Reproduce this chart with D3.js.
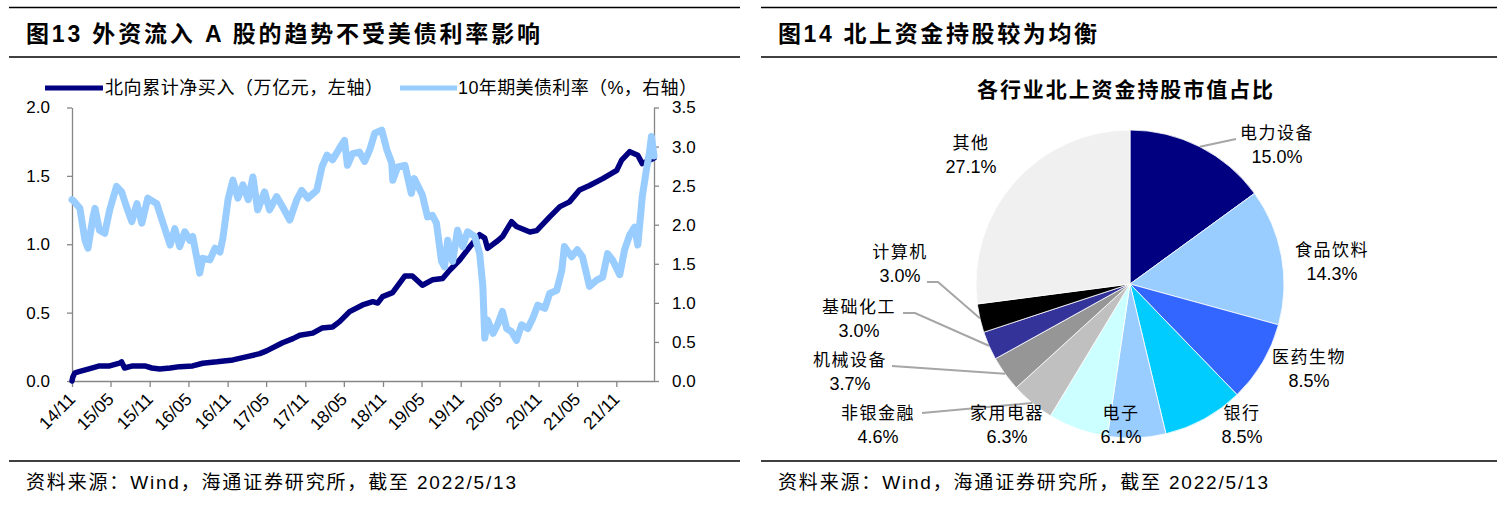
<!DOCTYPE html>
<html>
<head>
<meta charset="utf-8">
<script src="https://cdn.jsdelivr.net/npm/d3@7"></script>
<style>
  body { margin: 0; background: #fff; }
  svg text { font-family: "Liberation Sans", "Noto Sans CJK SC", sans-serif; fill: #000; }
</style>
</head>
<body>
<script>
// ---- data ----
var flowDates = ["2014-11-17","2014-11-21","2014-12-01","2014-12-24","2015-02-09","2015-03-26","2015-05-13","2015-06-28","2015-07-08","2015-07-22","2015-08-29","2015-09-18","2015-10-25","2015-11-27","2016-01-03","2016-02-21","2016-04-06","2016-06-06","2016-07-23","2016-09-28","2016-12-12","2017-02-17","2017-04-17","2017-05-19","2017-08-02","2017-09-20","2017-10-22","2017-12-22","2018-02-03","2018-03-25","2018-04-27","2018-06-13","2018-08-13","2018-09-30","2018-10-23","2018-11-15","2019-01-01","2019-02-28","2019-04-04","2019-05-21","2019-07-07","2019-08-24","2019-09-26","2019-11-12","2019-12-29","2020-02-14","2020-03-09","2020-03-22","2020-05-04","2020-05-31","2020-07-13","2020-08-05","2020-10-07","2020-11-08","2021-01-08","2021-02-25","2021-04-11","2021-05-28","2021-07-14","2021-09-14","2021-11-19","2021-12-12","2022-01-19","2022-02-26","2022-03-19","2022-04-22","2022-05-13"];
var flowValues = [0.00,0.03,0.06,0.07,0.09,0.11,0.11,0.13,0.14,0.095,0.11,0.11,0.11,0.095,0.088,0.095,0.105,0.11,0.13,0.14,0.154,0.178,0.20,0.22,0.28,0.31,0.335,0.35,0.387,0.395,0.434,0.507,0.556,0.58,0.57,0.617,0.646,0.768,0.768,0.70,0.74,0.75,0.81,0.885,0.98,1.07,1.045,0.97,1.02,1.055,1.165,1.13,1.09,1.10,1.20,1.275,1.31,1.397,1.43,1.48,1.54,1.615,1.677,1.65,1.59,1.615,1.63];

var yieldDates = ["2014-11-17","2014-11-26","2014-12-24","2015-01-17","2015-01-31","2015-02-24","2015-03-05","2015-03-26","2015-04-20","2015-05-13","2015-06-14","2015-07-08","2015-07-31","2015-08-25","2015-09-18","2015-10-11","2015-11-08","2015-12-20","2016-01-03","2016-02-21","2016-03-14","2016-04-06","2016-04-30","2016-05-23","2016-06-06","2016-07-09","2016-07-23","2016-08-26","2016-09-19","2016-10-12","2016-10-26","2016-11-19","2016-12-12","2017-01-04","2017-01-28","2017-02-22","2017-03-16","2017-04-07","2017-05-10","2017-06-02","2017-07-05","2017-08-02","2017-09-05","2017-10-08","2017-10-31","2017-11-29","2018-01-10","2018-02-03","2018-02-27","2018-03-25","2018-04-27","2018-05-20","2018-06-03","2018-06-27","2018-07-29","2018-08-23","2018-09-16","2018-10-09","2018-11-11","2018-12-05","2018-12-28","2019-01-02","2019-01-25","2019-02-28","2019-03-30","2019-04-13","2019-05-21","2019-06-14","2019-07-07","2019-07-26","2019-08-19","2019-09-02","2019-09-17","2019-10-10","2019-11-02","2019-11-26","2019-12-19","2020-01-22","2020-02-14","2020-02-29","2020-03-09","2020-03-22","2020-04-17","2020-05-08","2020-05-31","2020-06-20","2020-07-13","2020-08-05","2020-08-29","2020-09-27","2020-10-20","2020-11-13","2020-12-16","2021-01-08","2021-02-10","2021-03-06","2021-03-18","2021-04-21","2021-05-18","2021-06-11","2021-07-14","2021-08-17","2021-09-14","2021-10-07","2021-10-30","2021-12-03","2021-12-26","2022-01-19","2022-02-11","2022-02-26","2022-03-19","2022-04-07","2022-04-22","2022-05-01","2022-05-13"];
var yieldValues = [2.32,2.30,2.21,1.80,1.70,2.10,2.21,1.93,1.89,2.19,2.49,2.42,2.23,2.04,2.27,2.02,2.34,2.27,2.15,1.74,1.95,1.72,1.91,1.80,1.85,1.38,1.57,1.55,1.70,1.65,1.83,2.32,2.57,2.34,2.51,2.32,2.61,2.19,2.42,2.19,2.36,2.23,2.06,2.32,2.44,2.34,2.44,2.74,2.89,2.83,2.98,3.08,2.76,2.91,2.93,2.81,2.96,3.17,3.21,2.96,2.79,2.57,2.74,2.76,2.40,2.59,2.38,2.10,2.12,2.02,1.53,1.46,1.80,1.53,1.93,1.72,1.91,1.85,1.63,1.21,0.55,0.78,0.61,0.72,0.89,0.67,0.63,0.52,0.72,0.67,0.80,0.97,0.93,1.12,1.16,1.42,1.72,1.59,1.68,1.59,1.21,1.29,1.33,1.63,1.55,1.36,1.68,1.87,1.97,1.74,2.36,2.70,2.93,3.13,2.88];

var tickDates = ["2014-11-17","2015-05-17","2015-11-17","2016-05-17","2016-11-17","2017-05-17","2017-11-17","2018-05-17","2018-11-17","2019-05-17","2019-11-17","2020-05-17","2020-11-17","2021-05-17","2021-11-17"];
var leftTicks = [0, 0.5, 1.0, 1.5, 2.0];
var rightTicks = [0, 0.5, 1.0, 1.5, 2.0, 2.5, 3.0, 3.5];

var sectors = ["电力设备","食品饮料","医药生物","银行","电子","家用电器","非银金融","机械设备","基础化工","计算机","其他"];
var shares = [15.0, 14.3, 8.5, 8.5, 6.1, 6.3, 4.6, 3.7, 3.0, 3.0, 27.1];

// ---- styles / layout ----
var sectorColors = ["#000080","#99CCFF","#3366FF","#00CCFF","#99CCFF","#CCFFFF","#C0C0C0","#969696","#333399","#000000","#F0F0F0"];
// label centres and leader bends (layout only)
var labelPos = [[1277,133],[1332,250],[1309,357],[1242,413],[1121,413],[1007,413],[878,413],[850,360],[859,307],[900,252],[971,143]];
var leaderPts = {0: [[1236,139]], 6: [[922,413]], 7: [[892,366]], 8: [[915,313],[903,313]], 9: [[938,282],[927,282]]};

var parse = d3.timeParse("%Y-%m-%d");
var W = 1503, H = 515;
var svg = d3.select("body").append("svg").attr("width", W).attr("height", H);
svg.append("rect").attr("width", W).attr("height", H).attr("fill", "#fff");

// panel frames: header rules, footer rule, title, source
function panel(x0, x1, title, titleLen) {
  svg.append("line").attr("x1", x0).attr("x2", x1).attr("y1", 7.5).attr("y2", 7.5)
    .attr("stroke", "#000").attr("stroke-width", 1.6);
  svg.append("line").attr("x1", x0).attr("x2", x1).attr("y1", 57).attr("y2", 57)
    .attr("stroke", "#000").attr("stroke-width", 1.4);
  svg.append("line").attr("x1", x0).attr("x2", x1).attr("y1", 461).attr("y2", 461)
    .attr("stroke", "#000").attr("stroke-width", 1.4);
  svg.append("text").attr("x", x0 + 17).attr("y", 41.5)
    .attr("font-size", 23).attr("font-weight", "bold")
    .attr("textLength", titleLen).text(title);
  svg.append("text").attr("x", x0 + 17).attr("y", 489)
    .attr("font-size", 19).attr("textLength", 490)
    .text("资料来源：Wind，海通证券研究所，截至 2022/5/13");
}
panel(9, 740, "图13  外资流入 A 股的趋势不受美债利率影响", 514);
panel(761, 1497, "图14 北上资金持股较为均衡", 319);

// ---- left chart: lines on two axes ----
var x = d3.scaleTime().domain([parse("2014-11-17"), parse("2022-05-13")]).range([72, 654]);
var yL = d3.scaleLinear().domain([0, 2]).range([381, 107.5]);
var yR = d3.scaleLinear().domain([0, 3.5]).range([381, 107.5]);

var flow = flowDates.map((d, i) => ({ date: parse(d), v: flowValues[i] }));
var yld = yieldDates.map((d, i) => ({ date: parse(d), v: yieldValues[i] }));

var axisColor = "#868686";

var gx = svg.append("g").attr("transform", "translate(0,381)")
  .call(d3.axisBottom(x).tickValues(tickDates.map(parse)).tickSize(6).tickSizeOuter(0).tickFormat(""));
var gl = svg.append("g").attr("transform", "translate(72,0)")
  .call(d3.axisLeft(yL).tickValues(leftTicks).tickFormat(d3.format(".1f")).tickSize(5).tickSizeOuter(0).tickPadding(17));
var gr = svg.append("g").attr("transform", "translate(654,0)")
  .call(d3.axisRight(yR).tickValues(rightTicks).tickFormat(d3.format(".1f")).tickSize(5).tickSizeOuter(0).tickPadding(13));

[gx, gl, gr].forEach(function (g) {
  g.select(".domain").attr("stroke", axisColor).attr("stroke-width", 1.3);
  g.selectAll(".tick line").attr("stroke", axisColor).attr("stroke-width", 1.3);
  g.selectAll(".tick text").attr("font-size", 17).attr("fill", "#000")
    .style("font-family", "'Liberation Sans', sans-serif");
});

// rotated date labels
var fmt = d3.timeFormat("%y/%m");
svg.append("g").selectAll("text").data(tickDates.map(parse)).join("text")
  .attr("transform", d => `translate(${x(d)},${396}) rotate(-45)`)
  .attr("text-anchor", "end").attr("dy", "0.35em")
  .attr("font-size", 17.5).text(d => fmt(d));

var lineL = d3.line().x(d => x(d.date)).y(d => yL(d.v)).curve(d3.curveLinear);
var lineR = d3.line().x(d => x(d.date)).y(d => yR(d.v)).curve(d3.curveLinear);

svg.append("path").datum(flow).attr("d", lineL).attr("fill", "none")
  .attr("stroke", "#000080").attr("stroke-width", 5.5).attr("stroke-linejoin", "round").attr("stroke-linecap", "round");
svg.append("path").datum(yld).attr("d", lineR).attr("fill", "none")
  .attr("stroke", "#99CCFF").attr("stroke-width", 7).attr("stroke-linejoin", "round").attr("stroke-linecap", "round");

// legend
var legend = svg.append("g");
legend.append("line").attr("x1", 45).attr("x2", 103).attr("y1", 88).attr("y2", 88)
  .attr("stroke", "#000080").attr("stroke-width", 5);
legend.append("text").attr("x", 105).attr("y", 88).attr("dy", "0.35em")
  .attr("font-size", 18).attr("textLength", 278).text("北向累计净买入（万亿元，左轴）");
legend.append("line").attr("x1", 400).attr("x2", 457).attr("y1", 88).attr("y2", 88)
  .attr("stroke", "#99CCFF").attr("stroke-width", 5);
legend.append("text").attr("x", 458).attr("y", 88).attr("dy", "0.35em")
  .attr("font-size", 18).attr("textLength", 239).text("10年期美债利率（%，右轴）");

// ---- right chart: pie ----
var cx = 1130, cy = 284, R = 154;
svg.append("text").attr("x", 1125).attr("y", 90).attr("dy", "0.35em")
  .attr("text-anchor", "middle").attr("font-size", 21).attr("font-weight", "bold")
  .attr("textLength", 296).text("各行业北上资金持股市值占比");

var pie = d3.pie().sort(null).value(d => d)(shares);
var arc = d3.arc().innerRadius(0).outerRadius(R);
var edge = d3.arc().innerRadius(R).outerRadius(R);

var gp = svg.append("g").attr("transform", `translate(${cx},${cy})`);
gp.selectAll("path").data(pie).join("path")
  .attr("d", arc).attr("fill", (d, i) => sectorColors[i])
  .attr("stroke", "#fff").attr("stroke-width", 0.8);

// leader lines
pie.forEach(function (d, i) {
  if (!leaderPts[i]) return;
  var c = edge.centroid(d);
  var pts = [[cx + c[0], cy + c[1]]].concat(leaderPts[i]);
  svg.append("path").attr("d", d3.line()(pts)).attr("fill", "none")
    .attr("stroke", "#A6A6A6").attr("stroke-width", 2);
});

// labels
var gLab = svg.append("g");
sectors.forEach(function (s, i) {
  var p = labelPos[i];
  gLab.append("text").attr("x", p[0]).attr("y", p[1]).attr("dy", "0.35em")
    .attr("text-anchor", "middle").attr("font-size", 17).attr("letter-spacing", 1.5)
    .attr("fill", "#111").text(s);
  gLab.append("text").attr("x", p[0]).attr("y", p[1] + 24).attr("dy", "0.35em")
    .attr("text-anchor", "middle").attr("font-size", 18)
    .attr("fill", "#111").text(shares[i].toFixed(1) + "%");
});
</script>
</body>
</html>
